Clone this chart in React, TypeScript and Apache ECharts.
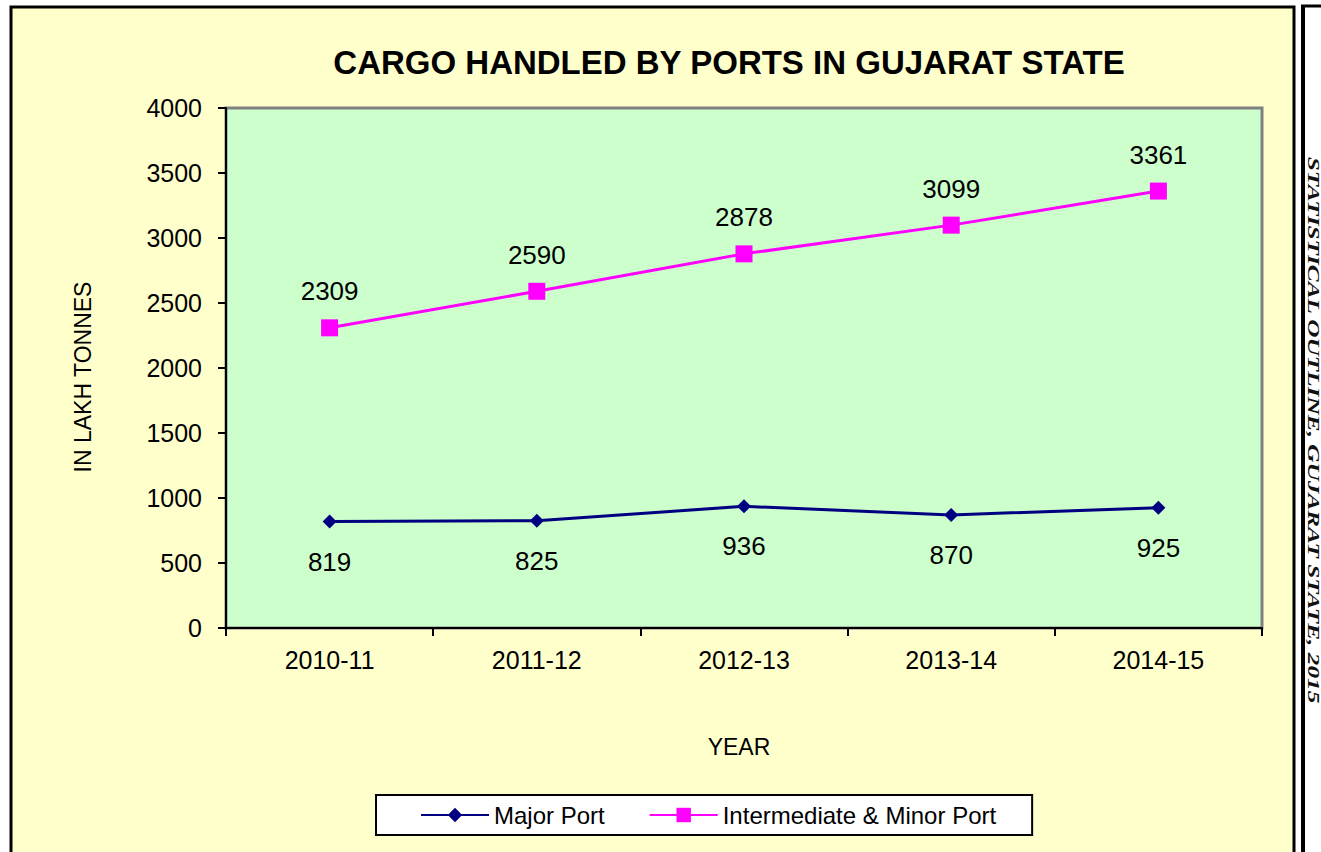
import React, { useEffect, useRef } from "react";
import * as echarts from "echarts";

const categories = ["2010-11", "2011-12", "2012-13", "2013-14", "2014-15"];
const majorPort = [819, 825, 936, 870, 925];
const minorPort = [2309, 2590, 2878, 3099, 3361];
const seriesNames = ["Major Port", "Intermediate & Minor Port"];
const titleText = "CARGO HANDLED BY PORTS IN GUJARAT STATE";
const yAxisName = "IN LAKH TONNES";
const xAxisName = "YEAR";
const sideText = "STATISTICAL OUTLINE, GUJARAT STATE, 2015";

export default function App() {
  const ref = useRef<HTMLDivElement>(null);
  useEffect(() => {
    if (!ref.current) return;
    const chart = echarts.init(ref.current, undefined, { renderer: "svg" });
    const font = "Arial, 'Liberation Sans', sans-serif";
    chart.setOption({
      animation: false,
      backgroundColor: "#ffffff",
      textStyle: { fontFamily: font },
      graphic: [
        {
          type: "rect",
          z: -10,
          shape: { x: 11, y: 7, width: 1283, height: 860 },
          style: { fill: "#FFFFCC", stroke: "#000000", lineWidth: 3 },
          silent: true,
        },
        {
          type: "line",
          shape: { x1: 1303, y1: 5, x2: 1303, y2: 852 },
          style: { stroke: "#000000", lineWidth: 4 },
        },
        {
          type: "line",
          shape: { x1: 1301, y1: 6, x2: 1321, y2: 6 },
          style: { stroke: "#000000", lineWidth: 3 },
        },
        {
          type: "text",
          x: 1313,
          y: 430,
          rotation: -Math.PI / 2,
          scaleX: 1.58,
          style: {
            text: sideText,
            font: "italic bold 16px 'Liberation Serif', 'DejaVu Serif', serif",
            fill: "#111111",
            align: "center",
            verticalAlign: "middle",
          },
        },
        {
          type: "text",
          x: 83,
          y: 377,
          rotation: Math.PI / 2,
          style: {
            text: yAxisName,
            font: "23px " + font,
            fill: "#000000",
            align: "center",
            verticalAlign: "middle",
          },
        },
        {
          type: "text",
          x: 739,
          y: 747,
          style: {
            text: xAxisName,
            font: "23px " + font,
            fill: "#000000",
            align: "center",
            verticalAlign: "middle",
          },
        },
      ],
      title: {
        text: titleText,
        left: 724,
        top: 41,
        textAlign: "center",
        textStyle: { fontSize: 33, fontWeight: "bold", color: "#000000", fontFamily: font },
      },
      legend: {
        data: seriesNames,
        left: 376,
        top: 795,
        backgroundColor: "#ffffff",
        borderColor: "#000000",
        borderWidth: 2,
        padding: [8, 36, 8, 44],
        itemWidth: 68,
        itemHeight: 18,
        itemGap: 44,
        textStyle: { fontSize: 24, color: "#000000", fontFamily: font },
      },
      grid: {
        left: 226,
        top: 108,
        width: 1036,
        height: 520,
        show: true,
        backgroundColor: "#CCFFCC",
        borderColor: "#808080",
        borderWidth: 3,
      },
      xAxis: {
        type: "category",
        data: categories,
        boundaryGap: true,
        axisLine: { lineStyle: { color: "#000000", width: 2 } },
        axisTick: { show: true, length: 8, alignWithLabel: false, lineStyle: { color: "#000000", width: 2 } },
        axisLabel: { fontSize: 25, color: "#000000", margin: 19, fontFamily: font },
        splitLine: { show: false },
      },
      yAxis: {
        type: "value",
        min: 0,
        max: 4000,
        interval: 500,
        axisLine: { show: true, lineStyle: { color: "#000000", width: 2 } },
        axisTick: { show: true, length: 8, lineStyle: { color: "#000000", width: 2 } },
        axisLabel: {
          fontSize: 25,
          color: "#000000",
          margin: 24,
          fontFamily: font,
          formatter: (v: number) => String(v),
        },
        splitLine: { show: false },
      },
      series: [
        {
          name: seriesNames[0],
          type: "line",
          data: majorPort,
          color: "#000080",
          symbol: "diamond",
          symbolSize: 14,
          lineStyle: { color: "#000080", width: 3 },
          itemStyle: { color: "#000080" },
          label: {
            show: true,
            position: "bottom",
            distance: 20,
            fontSize: 26,
            color: "#000000",
            fontFamily: font,
          },
        },
        {
          name: seriesNames[1],
          type: "line",
          data: minorPort,
          color: "#FF00FF",
          symbol: "rect",
          symbolSize: 17,
          lineStyle: { color: "#FF00FF", width: 3 },
          itemStyle: { color: "#FF00FF" },
          label: {
            show: true,
            position: "top",
            distance: 15,
            fontSize: 26,
            color: "#000000",
            fontFamily: font,
          },
        },
      ],
    });
    return () => chart.dispose();
  }, []);
  return (
    <div
      ref={ref}
      style={{ position: "fixed", left: 0, top: 0, width: 1321, height: 852 }}
    />
  );
}
